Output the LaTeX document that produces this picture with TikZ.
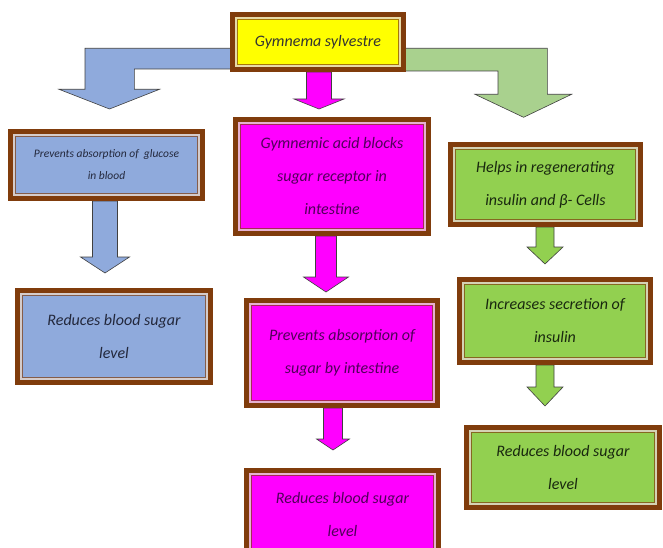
\documentclass[tikz,border=0pt]{standalone}
\usepackage{fontspec}
\setmainfont{Carlito}
\usepackage{xcolor}
\usetikzlibrary{calc}
\usetikzlibrary{backgrounds}
\definecolor{framebrown}{RGB}{128,60,12}
\definecolor{boxyellow}{RGB}{255,255,0}
\definecolor{boxblue}{RGB}{143,170,220}
\definecolor{boxmagenta}{RGB}{255,0,255}
\definecolor{boxgreen}{RGB}{146,208,80}
\definecolor{arrowgreen}{RGB}{169,209,142}
\definecolor{bluetext}{RGB}{35,40,60}
\definecolor{magtext}{RGB}{80,0,90}
\definecolor{greentext}{RGB}{25,40,15}
\def\framewidth{5pt}
\tikzset{
flowbox/.style 2 args={draw=framebrown, line width=\framewidth, fill=#1, text=#2,
	inner sep=0pt, align=center, font=\itshape\fontsize{16}{33}\selectfont,
	path picture={
		\draw[#1!45!framebrown!35!white, line width=1.6pt]
			([shift={(3.3pt,-3.3pt)}]path picture bounding box.north west) rectangle
			([shift={(-3.3pt,3.3pt)}]path picture bounding box.south east);
		\draw[#1!30!framebrown, line width=0.7pt]
			([shift={(4.9pt,-4.9pt)}]path picture bounding box.north west) rectangle
			([shift={(-4.9pt,4.9pt)}]path picture bounding box.south east);
	}
},
blockarrow/.style={draw=black!75, line width=0.6pt, fill=#1, line join=miter},
}
% #1 fill, #2 from node, #3 tip, #4 shaft half, #5 head half, #6 head length
\newcommand{\blockdown}[6]{%
	\draw[blockarrow=#1] let \p1=(#2.south), \p2=(#3) in
		(\x2-#4pt,\y1) -- (\x2+#4pt,\y1) -- (\x2+#4pt,\y2+#6pt) -- (\x2+#5pt,\y2+#6pt)
		-- (\x2,\y2) -- (\x2-#5pt,\y2+#6pt) -- (\x2-#4pt,\y2+#6pt) -- cycle;
}
\begin{document}
\begin{tikzpicture}[x=1pt, y=-1pt]
\useasboundingbox (0,0) rectangle (663,548);

\node[flowbox={boxyellow}{black!80}, minimum width=171pt, minimum height=55pt] (top) at (318,42) {Gymnema sylvestre};

\node[flowbox={boxblue}{bluetext}, font=\itshape\fontsize{11.5}{22}\selectfont,
	minimum width=192pt, minimum height=67pt] (l1) at (106.5,165) {Prevents absorption of~ glucose\\in blood};
\node[flowbox={boxblue}{bluetext}, minimum width=193pt, minimum height=92pt] (l2) at (114,336.5) {Reduces blood sugar\\level};

\node[flowbox={boxmagenta}{magtext}, minimum width=193pt, minimum height=114pt] (m1) at (332,176.5) {Gymnemic acid blocks\\sugar receptor in\\intestine};
\node[flowbox={boxmagenta}{magtext}, minimum width=191pt, minimum height=105pt] (m2) at (342,353) {Prevents absorption of\\sugar by intestine};
\node[flowbox={boxmagenta}{magtext}, minimum width=192pt, minimum height=87pt] (m3) at (342.5,514) {Reduces blood sugar\\level};

\node[flowbox={boxgreen}{greentext}, minimum width=190pt, minimum height=80pt] (r1) at (545.5,184.5) {Helps in regenerating\\insulin and β- Cells};
\node[flowbox={boxgreen}{greentext}, minimum width=191pt, minimum height=83pt] (r2) at (555,321) {Increases secretion of\\insulin};
\node[flowbox={boxgreen}{greentext}, minimum width=193pt, minimum height=80pt] (r3) at (563,467.5) {Reduces blood sugar\\level};

% arrow tips
\coordinate (lt) at (109.5,109);
\coordinate (mt) at (319,109);
\coordinate (rt) at (523.6,117.3);
\coordinate (l1t) at (105,273);
\coordinate (m1t) at (326,292);
\coordinate (m2t) at (333,450);
\coordinate (r1t) at (545,264);
\coordinate (r2t) at (545,406);

\begin{scope}[on background layer]
%
\draw[blockarrow=boxblue] (top.center |- 0,48.3) -- (85,48.3) -- (85,89.3) -- (59,89.3) -- (lt)
	-- (159.5,89.3) -- (134.3,89.3) -- (134.3,69) -- (top.center |- 0,69) -- cycle;
\draw[blockarrow=arrowgreen] (top.center |- 0,48.3) -- (547.4,48.3) -- (547.4,94.3) -- (571.6,94.3) -- (rt)
	-- (475,94.3) -- (498,94.3) -- (498,71) -- (top.center |- 0,71) -- cycle;
\blockdown{boxmagenta}{top}{mt}{12.5}{25}{10}

%
\blockdown{boxblue}{l1}{l1t}{12.5}{24.5}{16}
\blockdown{boxmagenta}{m1}{m1t}{10.5}{22.5}{15}
\blockdown{boxmagenta}{m2}{m2t}{9.5}{16.5}{11}
\blockdown{boxgreen}{r1}{r1t}{9}{18}{17}
\blockdown{boxgreen}{r2}{r2t}{9}{18}{19}
\end{scope}
\end{tikzpicture}
\end{document}
